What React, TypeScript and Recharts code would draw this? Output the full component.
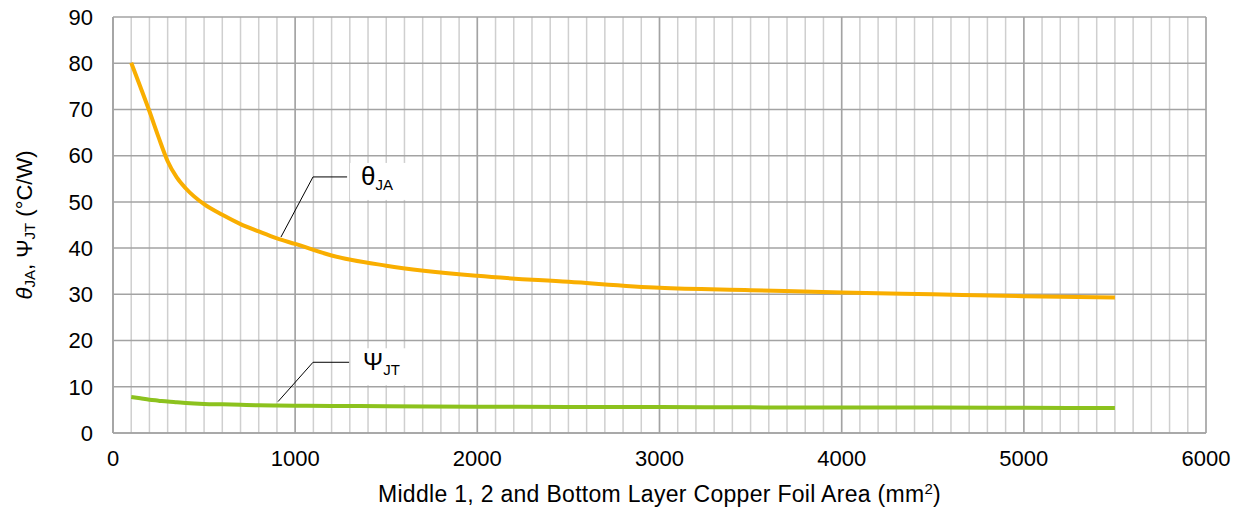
import {
  CartesianGrid,
  Label,
  Line,
  LineChart,
  ReferenceDot,
  ReferenceLine,
  XAxis,
  YAxis,
} from 'recharts';

// copper foil area (mm2)
const area = [100, 150, 200, 250, 300, 350, 400, 500, 600, 700, 800, 900, 1000, 1200, 1500, 2000, 2500, 3000, 3500, 4000, 4500, 5000, 5500];
const thetaJA = [80.1, 74.9, 69.6, 64.0, 58.8, 55.3, 52.9, 49.5, 47.2, 45.2, 43.6, 42.1, 40.9, 38.4, 36.2, 34.0, 32.7, 31.4, 30.9, 30.4, 30.0, 29.6, 29.3];
const psiJT = [7.8, 7.5, 7.2, 7.0, 6.8, 6.65, 6.5, 6.3, 6.2, 6.1, 6.0, 5.95, 5.9, 5.85, 5.8, 5.7, 5.65, 5.6, 5.55, 5.5, 5.5, 5.45, 5.4];

const xTicks = [0, 1000, 2000, 3000, 4000, 5000, 6000];
const yTicks = [0, 10, 20, 30, 40, 50, 60, 70, 80, 90];
const minorTicks = Array.from({ length: 61 }, (_, i) => i * 100);

const data = area.map((a, i) => ({ area: a, thetaJA: thetaJA[i], psiJT: psiJT[i] }));

const FONT = '"Liberation Sans", Arial, sans-serif';
const ORANGE = '#F9AE00';
const GREEN = '#8CC21E';

const seriesLabel = (main: string, sub: string, size: number) => (p: any) => (
  <g>
    <rect x={p.cx + 3} y={p.cy - 14} width={56} height={37} fill="#fff" />
    <text x={p.cx + 14} y={p.cy + 8} fontFamily={FONT} fontSize={size} fill="#000">
      {main}
      <tspan fontSize={15} dy={5}>{sub}</tspan>
    </text>
  </g>
);

export default function App() {
  return (
    <div style={{ position: 'absolute', left: 0, top: 0 }}>
      <LineChart
        width={1244}
        height={513}
        data={data}
        margin={{ top: 17, right: 38, bottom: 0, left: 33 }}
      >
        <CartesianGrid
          xAxisId="minor"
          horizontal={false}
          stroke="#cfcfcf"
          strokeWidth={1.5}
        />
        <CartesianGrid stroke="#a3a3a3" strokeWidth={1.5} />
        <XAxis
          xAxisId="minor"
          type="number"
          dataKey="area"
          domain={[0, 6000]}
          ticks={minorTicks}
          interval={0}
          hide
        />
        <XAxis
          type="number"
          dataKey="area"
          domain={[0, 6000]}
          ticks={xTicks}
          interval={0}
          height={80}
          tickLine={false}
          tickSize={0}
          tickMargin={17}
          stroke="#a3a3a3"
          strokeWidth={1.5}
          tick={{ fill: '#000', fontSize: 22, fontFamily: FONT }}
        >
          <Label
            content={(p: any) => {
              const vb = p.viewBox;
              return (
                <text
                  x={vb.x + vb.width / 2}
                  y={vb.y + 69}
                  textAnchor="middle"
                  fontFamily={FONT}
                  fontSize={23}
                  letterSpacing={0.3}
                  fill="#000"
                >
                  Middle 1, 2 and Bottom Layer Copper Foil Area (mm
                  <tspan fontSize={15} dy={-8}>2</tspan>
                  <tspan dy={8}>)</tspan>
                </text>
              );
            }}
          />
        </XAxis>
        <YAxis
          type="number"
          domain={[0, 90]}
          ticks={yTicks}
          interval={0}
          width={80}
          tickLine={false}
          tickSize={0}
          tickMargin={20}
          stroke="#a3a3a3"
          strokeWidth={1.5}
          tick={{ fill: '#000', fontSize: 22, fontFamily: FONT }}
        >
          <Label
            content={(p: any) => {
              const vb = p.viewBox;
              const cx = 24;
              const cy = vb.y + vb.height / 2;
              return (
                <text
                  x={cx}
                  y={cy}
                  transform={`rotate(-90 ${cx} ${cy})`}
                  textAnchor="middle"
                  dominantBaseline="central"
                  fontFamily={FONT}
                  fontSize={22}
                  fill="#000"
                >
                  <tspan fontStyle="italic">θ</tspan>
                  <tspan fontSize={15} dy={5}>JA</tspan>
                  <tspan dy={-5}>, Ψ</tspan>
                  <tspan fontSize={15} dy={5}>JT</tspan>
                  <tspan dy={-5}> (°C/W)</tspan>
                </text>
              );
            }}
          />
        </YAxis>
        <Line
          type="monotone"
          dataKey="thetaJA"
          stroke={ORANGE}
          strokeWidth={4}
          dot={false}
          isAnimationActive={false}
        />
        <Line
          type="monotone"
          dataKey="psiJT"
          stroke={GREEN}
          strokeWidth={4}
          dot={false}
          isAnimationActive={false}
        />
        <ReferenceLine
          segment={[{ x: 922, y: 42.4 }, { x: 1098, y: 55.4 }]}
          stroke="#000"
          strokeWidth={1}
        />
        <ReferenceLine
          segment={[{ x: 1098, y: 55.4 }, { x: 1285, y: 55.4 }]}
          stroke="#000"
          strokeWidth={1}
        />
        <ReferenceLine
          segment={[{ x: 906, y: 6.8 }, { x: 1098, y: 15.3 }]}
          stroke="#000"
          strokeWidth={1}
        />
        <ReferenceLine
          segment={[{ x: 1098, y: 15.3 }, { x: 1296, y: 15.3 }]}
          stroke="#000"
          strokeWidth={1}
        />
        <ReferenceDot x={1285} y={55.4} shape={seriesLabel('θ', 'JA', 26)} />
        <ReferenceDot x={1296} y={15.3} shape={seriesLabel('Ψ', 'JT', 24)} />
      </LineChart>
    </div>
  );
}
